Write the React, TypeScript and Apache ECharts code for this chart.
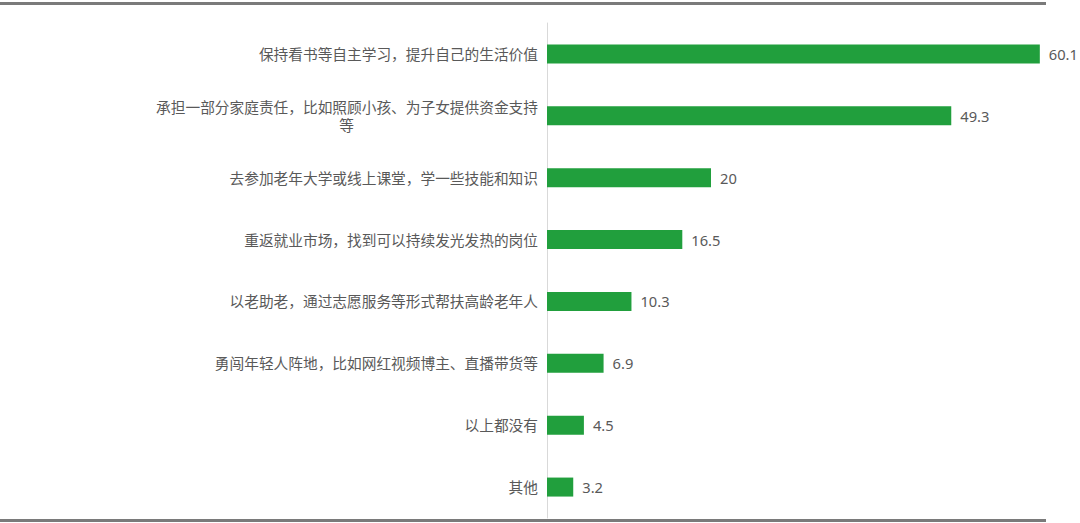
import { useEffect, useRef } from 'react';
import * as echarts from 'echarts';

const categories = [
  '保持看书等自主学习，提升自己的生活价值',
  '承担一部分家庭责任，比如照顾小孩、为子女提供资金支持\n等',
  '去参加老年大学或线上课堂，学一些技能和知识',
  '重返就业市场，找到可以持续发光发热的岗位',
  '以老助老，通过志愿服务等形式帮扶高龄老年人',
  '勇闯年轻人阵地，比如网红视频博主、直播带货等',
  '以上都没有',
  '其他',
];
const values = [60.1, 49.3, 20, 16.5, 10.3, 6.9, 4.5, 3.2];

const FONT = '"Noto Sans", "Noto Sans CJK SC", sans-serif';
const TEXT = '#595959';
const GREEN = '#219F3D';

export default function App() {
  const ref = useRef<HTMLDivElement | null>(null);

  useEffect(() => {
    if (!ref.current) return;
    const chart = echarts.init(ref.current, undefined, { renderer: 'svg' });
    chart.setOption({
      animation: false,
      backgroundColor: '#fff',
      textStyle: { fontFamily: FONT },
      grid: { left: 547, right: 0, top: 23, bottom: 5 },
      xAxis: { type: 'value', min: 0, max: 65, show: false, splitLine: { show: false } },
      yAxis: {
        type: 'category',
        inverse: true,
        data: categories,
        axisLine: { lineStyle: { color: '#d9d9d9' } },
        axisTick: { length: 5, lineStyle: { color: '#cfcfcf' } },
        axisLabel: {
          margin: 9,
          color: TEXT,
          fontSize: 14.7,
          fontFamily: FONT,
          lineHeight: 18,
          // wrapped continuation lines are centred under the first line
          formatter: (v: string) =>
            v.split('\n').map((s, i) => (i === 0 ? s : `{c|${s}}`)).join('\n'),
          rich: { c: { width: 383, align: 'center', color: TEXT, fontSize: 14.7, fontFamily: FONT, lineHeight: 18 } },
        },
      },
      series: [
        {
          type: 'bar',
          data: values,
          barWidth: 19,
          itemStyle: { color: GREEN },
          label: { show: true, position: 'right', distance: 9, color: TEXT, fontSize: 14.7, fontFamily: FONT },
        },
      ],
      graphic: [
        { type: 'rect', left: 0, top: 2, shape: { width: 1046, height: 3 }, style: { fill: '#7a7a7a' } },
        { type: 'rect', left: 0, top: 519, shape: { width: 1046, height: 3 }, style: { fill: '#7a7a7a' } },
      ],
    });
    return () => chart.dispose();
  }, []);

  return <div ref={ref} style={{ position: 'fixed', left: 0, top: 0, width: 1080, height: 523 }} />;
}
